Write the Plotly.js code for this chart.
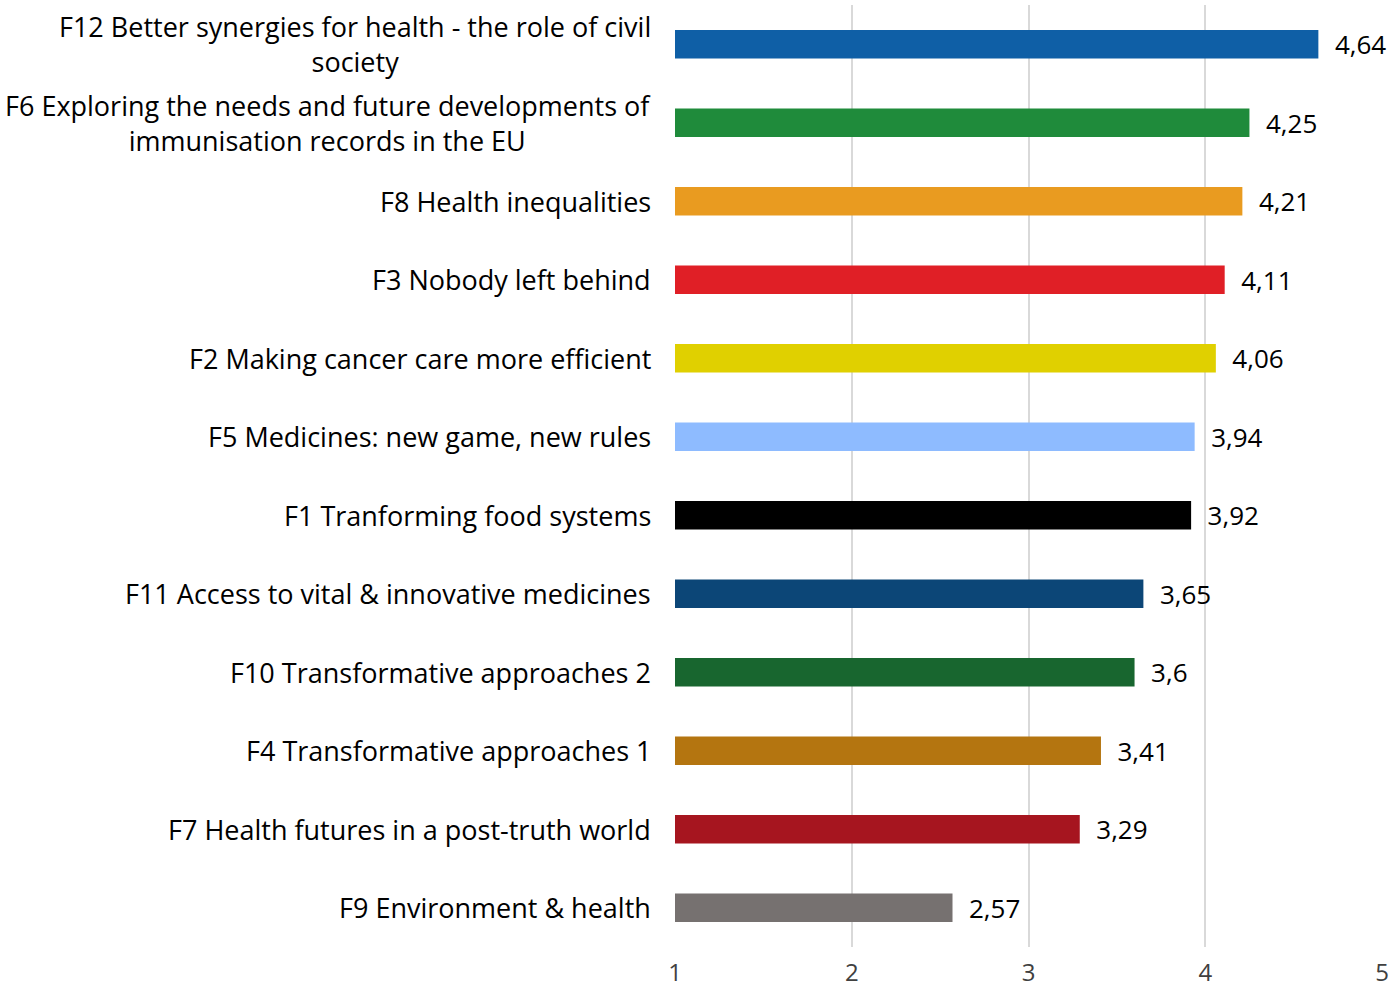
<!DOCTYPE html>
<html>
<head>
<meta charset="utf-8">
<script src="https://cdn.plot.ly/plotly-3.0.1.min.js"></script>
<style>
  html, body { margin: 0; padding: 0; background: #fff; }
  #grafico { width: 1389px; height: 990px; }
</style>
</head>
<body>
<div id="grafico"></div>
<script>
// Workshops, listed bottom to top (Plotly draws the first category at the bottom)
const workshops = [
  'F9 Environment & health',
  'F7 Health futures in a post-truth world',
  'F4 Transformative approaches 1',
  'F10 Transformative approaches 2',
  'F11 Access to vital & innovative medicines',
  'F1 Tranforming food systems',
  'F5 Medicines: new game, new rules',
  'F2 Making cancer care more efficient',
  'F3 Nobody left behind',
  'F8 Health inequalities',
  'F6 Exploring the needs and future developments of<br>immunisation records in the EU',
  'F12 Better synergies for health - the role of civil<br>society'
]
const scores = [2.57, 3.29, 3.41, 3.6, 3.65, 3.92, 3.94, 4.06, 4.11, 4.21, 4.25, 4.64]
const barColors = [
  '#767170', '#A6151F', '#B47510', '#18662F', '#0C4677', '#000000',
  '#8EBBFF', '#E0D000', '#E01F26', '#E99B20', '#1F8B3B', '#0F5FA6'
]
const xTicks = [1, 2, 3, 4, 5]

const fontFamily = '"Open Sans", Lato, sans-serif'

// category labels as annotations so wrapped lines stay centred
const labelAnnotations = workshops.map((name) => ({
  x: 0,
  xref: 'paper',
  y: name,
  yref: 'y',
  text: name,
  showarrow: false,
  xanchor: 'right',
  align: 'center',
  xshift: -22,
  font: { family: fontFamily, size: 27, color: '#000000' }
}))

const data = [{
  type: 'bar',
  orientation: 'h',
  y: workshops,
  x: scores.map((v) => v - 1), // bars start at 1
  base: 1,
  marker: { color: barColors },
  text: scores.map((v) => '  ' + String(v).replace('.', ',')),
  textposition: 'outside',
  constraintext: 'none',
  textfont: { family: fontFamily, size: 26, color: '#000000' },
  cliponaxis: false,
  hoverinfo: 'skip'
}]

const layout = {
  width: 1389,
  height: 990,
  margin: { l: 675, r: 7, t: 5, b: 43 },
  paper_bgcolor: '#ffffff',
  plot_bgcolor: '#ffffff',
  showlegend: false,
  bargap: 0.64,
  xaxis: {
    range: [1, 5],
    tickvals: xTicks,
    ticktext: xTicks.map(String),
    showgrid: true,
    gridcolor: '#D9D9D9',
    gridwidth: 2,
    zeroline: false,
    showline: false,
    ticks: '',
    ticklabelstandoff: 9,
    tickfont: { family: fontFamily, size: 24, color: '#404040' }
  },
  yaxis: {
    type: 'category',
    showticklabels: false,
    showgrid: false,
    zeroline: false,
    showline: false,
    ticks: ''
  },
  annotations: labelAnnotations
}

Plotly.newPlot('grafico', data, layout, { displayModeBar: false, staticPlot: true })
</script>
</body>
</html>
